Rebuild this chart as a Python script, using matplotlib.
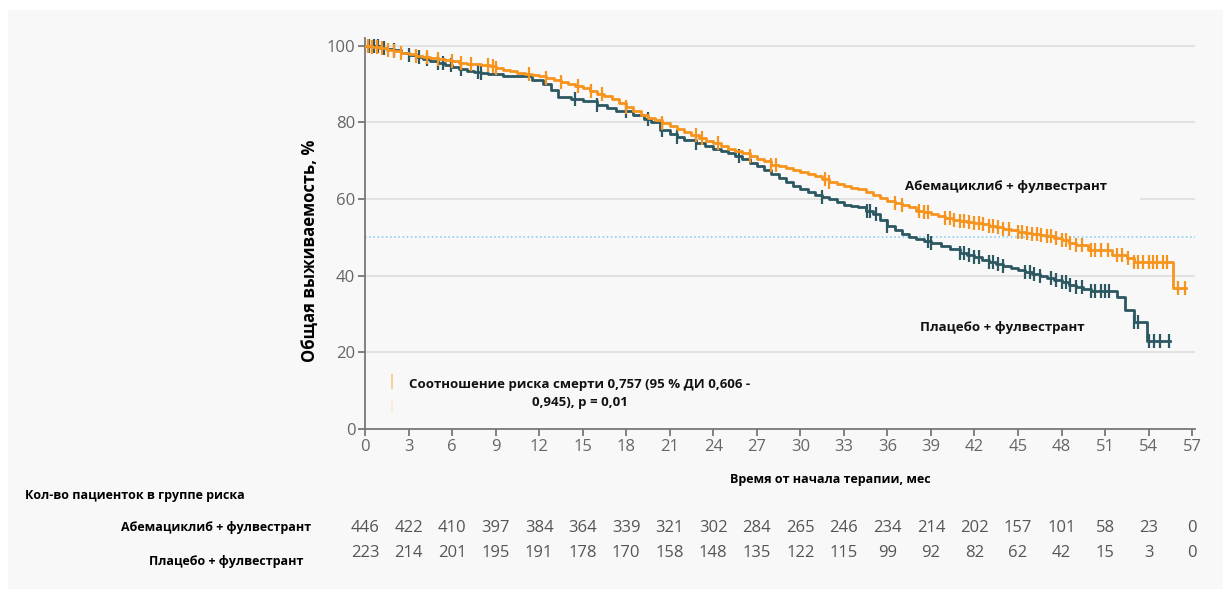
import numpy as np
import matplotlib
matplotlib.use("Agg")
import matplotlib.pyplot as plt
from matplotlib.transforms import blended_transform_factory
from matplotlib.patches import Rectangle

plt.rcParams['font.family'] = ['Open Sans', 'DejaVu Sans']

# --- data ---
# Kaplan-Meier knots (time in months, survival in %)
abema_t = [0, 0.5, 1.0, 1.5, 2.0, 2.5, 3.0, 3.5, 4.0, 4.5, 5.0, 5.5, 6.0, 6.5,
           7.0, 7.5, 8.0, 8.6, 9.0, 9.5, 10.0, 10.5, 11.0, 11.5, 12.0, 12.5,
           13.0, 13.5, 14.0, 14.5, 15.0, 15.5, 16.0, 16.5, 17.0, 17.5, 18.0,
           18.5, 19.0, 19.5, 20.0, 20.5, 21.0, 21.5, 22.0, 22.5, 23.0, 23.5,
           24.0, 24.5, 25.0, 25.5, 26.0, 26.5, 27.0, 27.5, 28.0, 28.5, 29.0,
           29.5, 30.0, 30.5, 31.0, 31.5, 32.0, 32.5, 33.0, 33.5, 34.0, 34.5,
           35.0, 35.5, 36.0, 36.5, 37.0, 37.5, 38.0, 38.5, 39.0, 39.5, 40.0,
           40.5, 41.0, 41.5, 42.0, 42.5, 43.0, 43.5, 44.0, 44.5, 45.0, 45.5,
           46.0, 46.5, 47.0, 47.5, 48.0, 48.5, 49.0, 49.8, 51.5, 52.5, 53.0,
           55.7, 56.6]
abema_s = [100, 99.7, 99.3, 99.0, 98.6, 98.2, 97.8, 97.4, 97.1, 96.8, 96.5,
           96.2, 95.9, 95.6, 95.3, 95.1, 94.9, 94.6, 94.2, 93.7, 93.3, 93.0,
           92.7, 92.4, 92.0, 91.5, 91.0, 90.5, 90.0, 89.5, 89.0, 88.3, 87.5,
           86.8, 86.0, 85.0, 84.0, 83.0, 82.0, 81.2, 80.5, 79.8, 79.0, 78.2,
           77.5, 76.8, 76.0, 75.2, 74.5, 73.8, 73.0, 72.5, 72.0, 71.2, 70.5,
           69.8, 69.0, 68.5, 68.0, 67.5, 67.0, 66.5, 66.0, 65.2, 64.5, 64.0,
           63.5, 63.0, 62.5, 61.8, 61.0, 60.2, 59.5, 59.0, 58.5, 57.8, 57.0,
           56.5, 56.0, 55.5, 55.0, 54.6, 54.3, 54.0, 53.8, 53.4, 53.0, 52.6,
           52.3, 51.9, 51.5, 51.1, 50.8, 50.5, 50.3, 49.8, 49.3, 48.6, 48.0,
           46.8, 45.5, 44.5, 43.5, 36.8, 36.8]
abema_cens = [0.2, 0.5, 0.8, 1.2, 1.6, 2.0, 2.5, 3.5, 4.3, 5.0, 6.0, 6.6, 7.3,
              8.5, 8.8, 9.0, 11.3, 12.5, 13.5, 14.7, 15.6, 16.3, 18.0, 20.5,
              22.8, 23.2, 24.3, 26.5, 28.0, 28.3, 31.7, 32.0, 36.5, 37.0, 38.2,
              38.5, 38.8, 40.0, 40.3, 40.6, 41.0, 41.3, 41.6, 42.0, 42.3, 42.6,
              43.0, 43.3, 43.6, 44.0, 44.4, 45.0, 45.3, 45.6, 46.0, 46.3, 46.6,
              47.0, 47.3, 47.6, 48.0, 48.3, 48.6, 49.0, 49.4, 50.0, 50.3, 50.7,
              51.2, 51.8, 52.2, 52.6, 53.0, 53.3, 53.6, 54.0, 54.3, 54.6, 55.0,
              55.3, 56.0, 56.5]

placebo_t = [0, 0.5, 1.0, 1.5, 2.0, 2.5, 3.0, 3.5, 4.0, 4.5, 5.0, 5.5, 6.0,
             6.5, 7.0, 7.5, 8.0, 8.5, 9.5, 11.5, 12.3, 12.8, 13.3, 14.2, 15.0,
             16.0, 16.7, 17.3, 18.5, 19.2, 19.7, 20.3, 21.0, 21.5, 22.0, 22.8,
             23.4, 24.0, 24.5, 25.0, 25.5, 26.0, 26.5, 27.0, 27.5, 28.0, 28.5,
             29.0, 29.5, 30.0, 30.5, 31.0, 31.5, 32.0, 32.5, 33.0, 33.5, 34.0,
             34.5, 35.0, 35.5, 36.0, 36.5, 37.0, 37.5, 38.0, 38.5, 39.0, 39.7,
             40.3, 41.0, 41.5, 42.0, 42.5, 43.0, 43.5, 44.0, 44.5, 45.0, 45.5,
             46.0, 46.5, 47.0, 47.5, 48.0, 48.5, 49.0, 49.5, 50.0, 51.8, 52.4,
             53.0, 53.9, 55.5]
placebo_s = [100, 99.8, 99.5, 99.1, 98.8, 98.1, 97.5, 97.0, 96.5, 96.0, 95.5,
             95.0, 94.5, 94.0, 93.5, 93.2, 92.8, 92.5, 92.0, 91.0, 90.0, 88.5,
             86.5, 86.0, 85.5, 84.5, 83.8, 83.0, 82.0, 81.0, 80.0, 78.0, 77.0,
             76.2, 75.5, 74.5, 73.8, 73.0, 72.5, 72.0, 71.2, 70.5, 69.5, 68.5,
             67.5, 66.5, 65.5, 64.5, 63.5, 62.5, 61.8, 61.0, 60.5, 60.0, 59.2,
             58.5, 58.3, 58.0, 57.0, 56.0, 54.5, 53.0, 52.0, 51.0, 50.2, 49.5,
             49.0, 48.5, 47.8, 47.0, 46.0, 45.5, 45.0, 44.2, 43.5, 43.0, 42.5,
             42.0, 41.5, 41.0, 40.5, 40.0, 39.5, 38.9, 38.3, 37.6, 37.0, 36.5,
             36.0, 34.5, 31.0, 28.0, 23.0, 23.0]
placebo_cens = [0.3, 0.6, 0.9, 1.3, 2.0, 3.0, 3.7, 4.3, 5.0, 5.4, 5.9, 6.6, 7.8,
                8.0, 14.5, 16.0, 18.0, 19.5, 20.5, 21.5, 22.8, 25.8, 31.5, 34.6,
                34.8, 35.2, 36.0, 38.8, 39.0, 41.0, 41.3, 41.6, 42.0, 42.3, 43.0,
                43.3, 43.6, 44.0, 45.5, 45.8, 46.1, 46.5, 47.3, 47.6, 48.0, 48.3,
                48.6, 49.0, 49.4, 50.0, 50.3, 50.7, 51.0, 51.3, 53.0, 53.3, 54.0,
                54.4, 54.8, 55.4]

months = list(range(0, 58, 3))
risk_abema = [446, 422, 410, 397, 384, 364, 339, 321, 302, 284, 265, 246, 234,
              214, 202, 157, 101, 58, 23, 0]
risk_placebo = [223, 214, 201, 195, 191, 178, 170, 158, 148, 135, 122, 115, 99,
                92, 82, 62, 42, 15, 3, 0]

orange = "#f7941d"
teal = "#2c5862"
bg = "#f8f8f8"
grey_txt = "#666666"

fig = plt.figure(figsize=(12.23, 5.89), dpi=100)
fig.patch.set_facecolor("white")
fig.add_artist(Rectangle((8 / 1223, 0), 1, (589 - 10) / 589,
                         transform=fig.transFigure, facecolor=bg,
                         edgecolor="none", zorder=-10))

ax = fig.add_axes([365 / 1223, (589 - 429) / 589, 830 / 1223, 391 / 589])
ax.set_facecolor(bg)
ax.set_xlim(0, 57.2)
ax.set_ylim(0, 102)

for g in [20, 40, 60, 80, 100]:
    ax.axhline(g, color="#e2e2e2", lw=1.5, zorder=1)
ax.axhline(50, color="#8ad2f0", lw=1.2, ls=(0, (1, 1.5)), zorder=1.5)

# label background hides the 60 % gridline behind the label
ax.add_patch(Rectangle((35.1, 57.5), 18.3, 12.5, facecolor=bg,
                       edgecolor="none", zorder=1.8))


def surv_at(times, t_knots, s_knots):
    idx = np.searchsorted(t_knots, times, side="right") - 1
    return np.array(s_knots)[idx]


for t_k, s_k, cens, col in [(placebo_t, placebo_s, placebo_cens, teal),
                            (abema_t, abema_s, abema_cens, orange)]:
    ax.step(t_k, s_k, where="post", color=col, lw=2.0, zorder=4)
    ax.plot(cens, surv_at(cens, t_k, s_k), ls="none", marker="|",
            markersize=10, markeredgewidth=1.6, color=col, zorder=4)

# labels on the plot
ax.text(44.2, 63.3, "Абемациклиб + фулвестрант", ha="center", va="center",
        fontsize=9.5, fontweight="bold", color="#111111", zorder=3)
ax.text(43.9, 26.4, "Плацебо + фулвестрант", ha="center", va="center",
        fontsize=9.5, fontweight="bold", color="#111111", zorder=3)
ax.text(14.8, 9.2, "Соотношение риска смерти 0,757 (95 % ДИ 0,606 -\n0,945), p = 0,01",
        ha="center", va="center", fontsize=9.5, fontweight="bold",
        color="#111111", linespacing=1.5, zorder=3)
ax.plot([1.85, 1.85], [10.7, 14.0], color=orange, alpha=0.5, lw=1.2)
ax.plot([1.85, 1.85], [4.4, 7.0], color=orange, alpha=0.15, lw=1.2)

# axes styling
for side in ["top", "right"]:
    ax.spines[side].set_visible(False)
for side in ["left", "bottom"]:
    ax.spines[side].set_color("#777777")
    ax.spines[side].set_linewidth(1.3)
ax.set_xticks(months)
ax.set_yticks([0, 20, 40, 60, 80, 100])
ax.tick_params(axis="both", colors="#777777", labelcolor=grey_txt,
               labelsize=12, length=5, width=1.3, pad=2)

fig.text(310 / 1223, 1 - 251 / 589, "Общая выживаемость, %", rotation=90,
         ha="center", va="center", fontsize=12, fontweight="bold")
fig.text(830 / 1223, 1 - 480 / 589, "Время от начала терапии, мес",
         ha="center", va="center", fontsize=9, fontweight="bold")

# risk table
fig.text(25 / 1223, 1 - 496 / 589, "Кол-во пациенток в группе риска",
         ha="left", va="center", fontsize=9, fontweight="bold")
fig.text(311 / 1223, 1 - 528 / 589, "Абемациклиб + фулвестрант",
         ha="right", va="center", fontsize=9, fontweight="bold")
fig.text(303 / 1223, 1 - 561 / 589, "Плацебо + фулвестрант",
         ha="right", va="center", fontsize=9, fontweight="bold")

trans = blended_transform_factory(ax.transData, fig.transFigure)
for m, a, p in zip(months, risk_abema, risk_placebo):
    ax.text(m, 1 - 528 / 589, str(a), transform=trans, ha="center",
            va="center", fontsize=12, color="#555555", clip_on=False)
    ax.text(m, 1 - 553 / 589, str(p), transform=trans, ha="center",
            va="center", fontsize=12, color="#555555", clip_on=False)

fig.savefig("out.png", dpi=100, facecolor=fig.get_facecolor())
